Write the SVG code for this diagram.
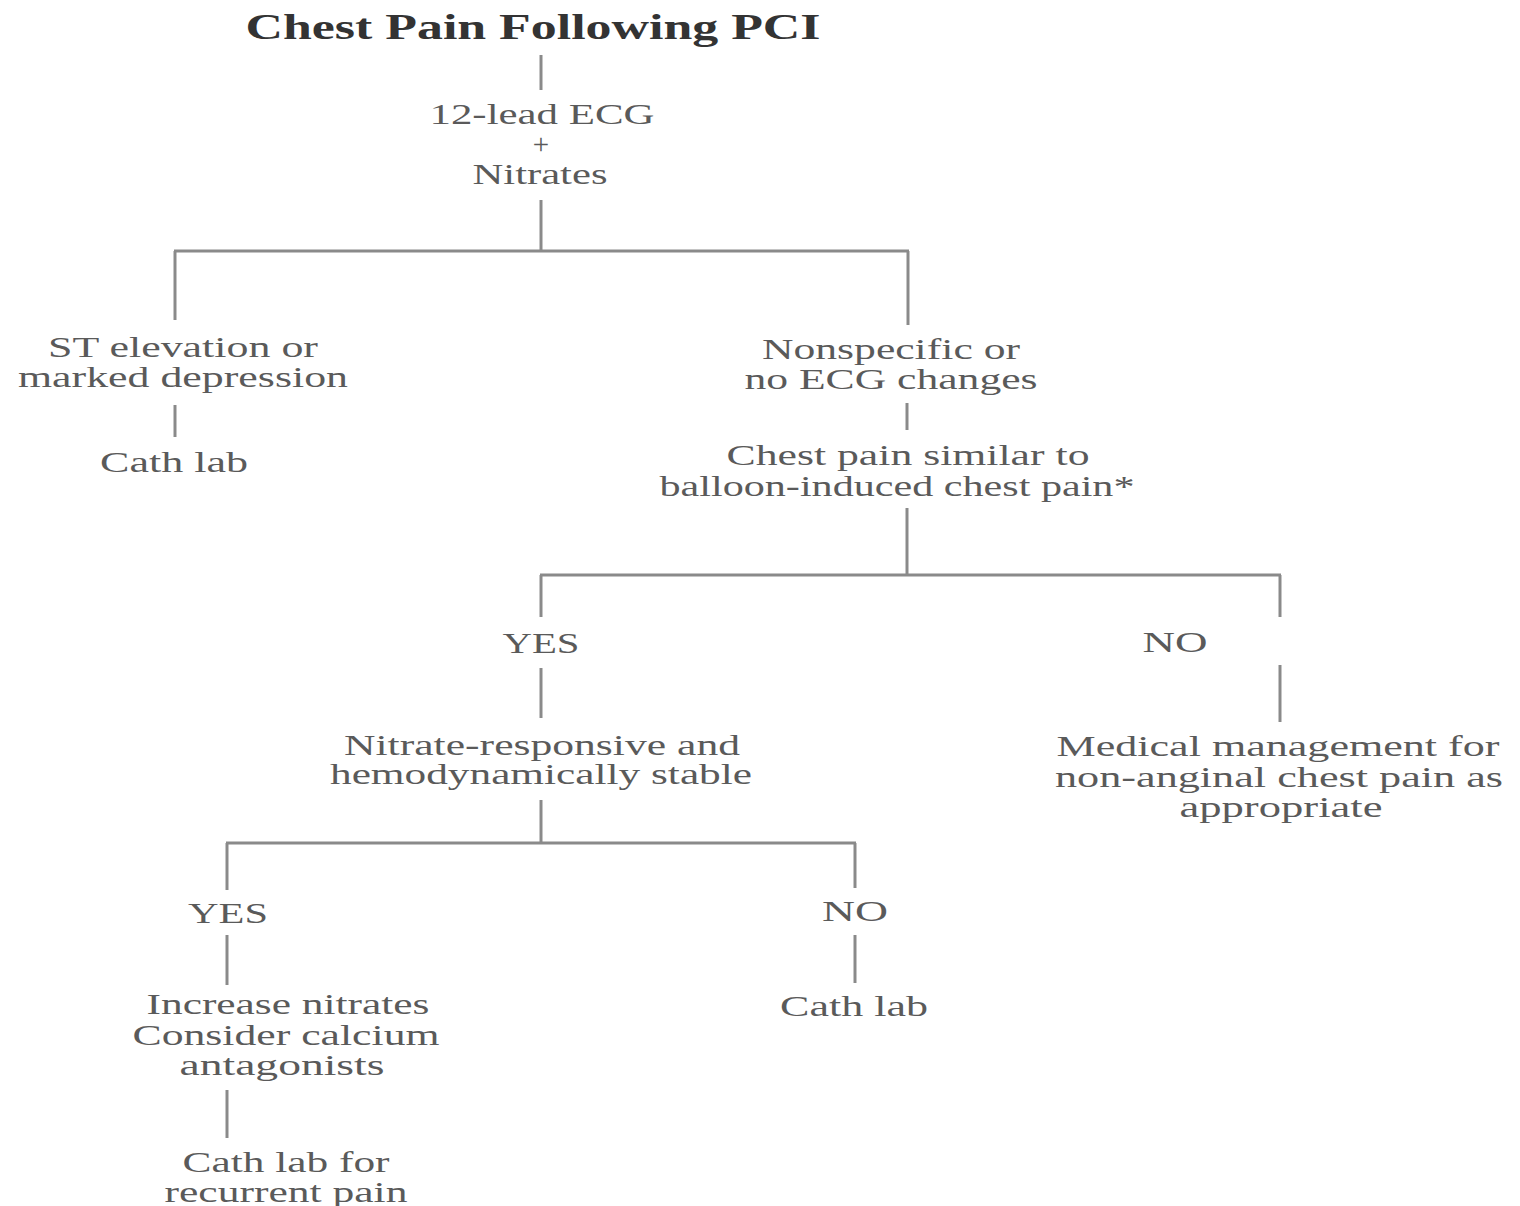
<svg xmlns="http://www.w3.org/2000/svg" width="1520" height="1206" viewBox="0 0 1520 1206">
<style>
text{font-family:"Liberation Serif","Times New Roman",serif;font-size:29px;fill:#5a5a5a;text-anchor:middle}
.title{font-size:35px;font-weight:bold;fill:#333}
.c line{stroke:#8a8a8a;stroke-width:3;fill:none}
</style>
<rect width="1520" height="1206" fill="#fff"/>
<g class="c" id="connectors">
<line x1="541" y1="55" x2="541" y2="90"/>
<line x1="541" y1="200" x2="541" y2="251"/>
<line x1="174" y1="251" x2="909" y2="251"/>
<line x1="175" y1="251" x2="175" y2="320"/>
<line x1="908" y1="251" x2="908" y2="325"/>
<line x1="175" y1="405" x2="175" y2="437"/>
<line x1="907" y1="403" x2="907" y2="430"/>
<line x1="907" y1="508" x2="907" y2="575"/>
<line x1="540" y1="575" x2="1281" y2="575"/>
<line x1="541" y1="575" x2="541" y2="617"/>
<line x1="1280" y1="575" x2="1280" y2="617"/>
<line x1="541" y1="668" x2="541" y2="718"/>
<line x1="1280" y1="665" x2="1280" y2="722"/>
<line x1="541" y1="800" x2="541" y2="843"/>
<line x1="226" y1="843" x2="856" y2="843"/>
<line x1="227" y1="843" x2="227" y2="890"/>
<line x1="855" y1="843" x2="855" y2="888"/>
<line x1="227" y1="935" x2="227" y2="985"/>
<line x1="855" y1="935" x2="855" y2="983"/>
<line x1="227" y1="1090" x2="227" y2="1138"/>
</g>
<g id="title"><text class="title" x="533" y="39" textLength="575" lengthAdjust="spacingAndGlyphs">Chest Pain Following PCI</text></g>
<g id="ecg">
<text x="542" y="124" textLength="225" lengthAdjust="spacingAndGlyphs">12-lead ECG</text>
<text x="541" y="154">+</text>
<text x="540" y="184" textLength="135" lengthAdjust="spacingAndGlyphs">Nitrates</text>
</g>
<g id="st">
<text x="183" y="357" textLength="270" lengthAdjust="spacingAndGlyphs">ST elevation or</text>
<text x="183" y="387" textLength="330" lengthAdjust="spacingAndGlyphs">marked depression</text>
</g>
<g id="cath1"><text x="174" y="472" textLength="148" lengthAdjust="spacingAndGlyphs">Cath lab</text></g>
<g id="nonspecific">
<text x="891" y="359" textLength="258" lengthAdjust="spacingAndGlyphs">Nonspecific or</text>
<text x="891" y="389" textLength="293" lengthAdjust="spacingAndGlyphs">no ECG changes</text>
</g>
<g id="similar">
<text x="908" y="465" textLength="363" lengthAdjust="spacingAndGlyphs">Chest pain similar to</text>
<text x="897" y="496" textLength="475" lengthAdjust="spacingAndGlyphs">balloon-induced chest pain*</text>
</g>
<g id="yes1"><text x="541" y="653" textLength="77" lengthAdjust="spacingAndGlyphs">YES</text></g>
<g id="no1"><text x="1175" y="652" textLength="65" lengthAdjust="spacingAndGlyphs">NO</text></g>
<g id="nitrate">
<text x="542" y="755" textLength="396" lengthAdjust="spacingAndGlyphs">Nitrate-responsive and</text>
<text x="541" y="784" textLength="422" lengthAdjust="spacingAndGlyphs">hemodynamically stable</text>
</g>
<g id="medical">
<text x="1278" y="756" textLength="443" lengthAdjust="spacingAndGlyphs">Medical management for</text>
<text x="1279" y="787" textLength="448" lengthAdjust="spacingAndGlyphs">non-anginal chest pain as</text>
<text x="1281" y="817" textLength="203" lengthAdjust="spacingAndGlyphs">appropriate</text>
</g>
<g id="yes2"><text x="228" y="923" textLength="80" lengthAdjust="spacingAndGlyphs">YES</text></g>
<g id="no2"><text x="855" y="921" textLength="66" lengthAdjust="spacingAndGlyphs">NO</text></g>
<g id="increase">
<text x="288" y="1014" textLength="283" lengthAdjust="spacingAndGlyphs">Increase nitrates</text>
<text x="286" y="1045" textLength="307" lengthAdjust="spacingAndGlyphs">Consider calcium</text>
<text x="282" y="1075" textLength="205" lengthAdjust="spacingAndGlyphs">antagonists</text>
</g>
<g id="cath2"><text x="854" y="1016" textLength="148" lengthAdjust="spacingAndGlyphs">Cath lab</text></g>
<g id="cath3">
<text x="286" y="1172" textLength="207" lengthAdjust="spacingAndGlyphs">Cath lab for</text>
<text x="286" y="1202" textLength="243" lengthAdjust="spacingAndGlyphs">recurrent pain</text>
</g>
</svg>
